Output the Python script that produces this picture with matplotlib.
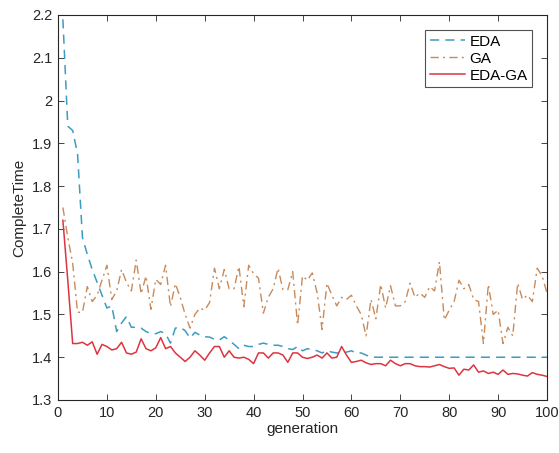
import matplotlib
matplotlib.use("Agg")
import matplotlib.pyplot as plt
import numpy as np

plt.rcParams['font.family'] = ['Liberation Sans', 'DejaVu Sans']

generation = list(range(1, 101))

eda = [2.19, 1.94, 1.93, 1.875, 1.68, 1.64, 1.605, 1.575, 1.545, 1.515,
       1.52, 1.46, 1.48, 1.495, 1.47, 1.47, 1.468, 1.46, 1.455, 1.455,
       1.46, 1.455, 1.433, 1.468, 1.47, 1.462, 1.445, 1.458, 1.452, 1.448,
       1.447, 1.442, 1.44, 1.448, 1.44, 1.43, 1.42, 1.428, 1.425, 1.425,
       1.43, 1.433, 1.43, 1.428, 1.428, 1.425, 1.42, 1.418, 1.425, 1.415,
       1.42, 1.418, 1.415, 1.41, 1.415, 1.412, 1.41, 1.41, 1.412, 1.415,
       1.41, 1.41, 1.405, 1.40, 1.40, 1.40, 1.40, 1.40, 1.40, 1.40,
       1.40, 1.40, 1.40, 1.40, 1.40, 1.40, 1.40, 1.40, 1.40, 1.40,
       1.40, 1.40, 1.40, 1.40, 1.40, 1.40, 1.40, 1.40, 1.40, 1.40,
       1.40, 1.40, 1.40, 1.40, 1.40, 1.40, 1.40, 1.40, 1.40, 1.40]

ga = [1.75, 1.68, 1.62, 1.505, 1.505, 1.565, 1.53, 1.545, 1.58, 1.615,
      1.535, 1.555, 1.605, 1.575, 1.555, 1.627, 1.548, 1.59, 1.512, 1.582,
      1.57, 1.615, 1.518, 1.572, 1.54, 1.50, 1.468, 1.50, 1.515, 1.51,
      1.528, 1.608, 1.56, 1.605, 1.56, 1.56, 1.612, 1.518, 1.615, 1.595,
      1.585, 1.503, 1.54, 1.56, 1.608, 1.558, 1.558, 1.60, 1.475, 1.59,
      1.58, 1.597, 1.55, 1.465, 1.573, 1.545, 1.52, 1.54, 1.535, 1.545,
      1.52, 1.50, 1.45, 1.535, 1.49, 1.57, 1.515, 1.567, 1.52, 1.52,
      1.53, 1.573, 1.54, 1.55, 1.54, 1.565, 1.555, 1.623, 1.487, 1.51,
      1.53, 1.58, 1.56, 1.57, 1.535, 1.53, 1.432, 1.57, 1.50, 1.51,
      1.432, 1.47, 1.45, 1.573, 1.535, 1.545, 1.53, 1.608, 1.59, 1.55]

eda_ga = [1.72, 1.58, 1.432, 1.432, 1.435, 1.428, 1.436, 1.407, 1.43, 1.425,
          1.417, 1.42, 1.435, 1.41, 1.407, 1.412, 1.443, 1.42, 1.415, 1.422,
          1.446, 1.42, 1.425, 1.41, 1.40, 1.39, 1.40, 1.415, 1.405, 1.393,
          1.41, 1.425, 1.425, 1.40, 1.415, 1.40, 1.398, 1.40, 1.395, 1.385,
          1.41, 1.41, 1.398, 1.41, 1.41, 1.405, 1.388, 1.41, 1.41, 1.40,
          1.397, 1.40, 1.405, 1.398, 1.41, 1.398, 1.40, 1.425, 1.405, 1.388,
          1.39, 1.393, 1.387, 1.383, 1.385, 1.385, 1.38, 1.393, 1.385, 1.38,
          1.385, 1.385, 1.38, 1.378, 1.378, 1.377, 1.38, 1.383, 1.378, 1.374,
          1.375, 1.358, 1.372, 1.37, 1.382, 1.365, 1.368, 1.362, 1.365, 1.36,
          1.37, 1.36, 1.362, 1.361, 1.358, 1.356, 1.364, 1.36, 1.358, 1.355]

fig = plt.figure(figsize=(5.59, 4.53), dpi=100)
ax = fig.add_axes([58/559, 1 - 400/453, (547 - 58)/559, (400 - 15)/453])

ax.plot(generation, eda, color='#3d9cbf', linestyle=(0, (6, 4)), linewidth=1.1, label='EDA')
ax.plot(generation, ga, color='#c98a5a', linestyle=(0, (6, 3, 1.5, 3)), linewidth=1.0, label='GA')
ax.plot(generation, eda_ga, color='#de3440', linestyle='-', linewidth=1.1, label='EDA-GA')

ax.set_xlim(0, 100)
ax.set_ylim(1.3, 2.2)
ax.set_xticks(range(0, 101, 10))
ax.set_yticks([1.3, 1.4, 1.5, 1.6, 1.7, 1.8, 1.9, 2.0, 2.1, 2.2])
ax.set_yticklabels(['1.3', '1.4', '1.5', '1.6', '1.7', '1.8', '1.9', '2', '2.1', '2.2'])
ax.tick_params(direction='in', top=True, right=True, length=4, width=0.6,
               labelsize=10.5, colors='#262626', pad=4)
for s in ax.spines.values():
    s.set_linewidth(0.8)
    s.set_color('#262626')

ax.set_xlabel('generation', fontsize=11, color='#262626', labelpad=2)
ax.set_ylabel('CompleteTime', fontsize=11, color='#262626', labelpad=4)

leg = ax.legend(loc='upper right', bbox_to_anchor=(1 - 15/489, 1 - 15/385), fontsize=11,
                frameon=True, fancybox=False, edgecolor='#262626',
                handlelength=2.35, handletextpad=0.25, borderpad=0.3,
                labelspacing=0.2, borderaxespad=0.0)
leg.get_frame().set_linewidth(0.8)

fig.savefig('out.png', dpi=100)
